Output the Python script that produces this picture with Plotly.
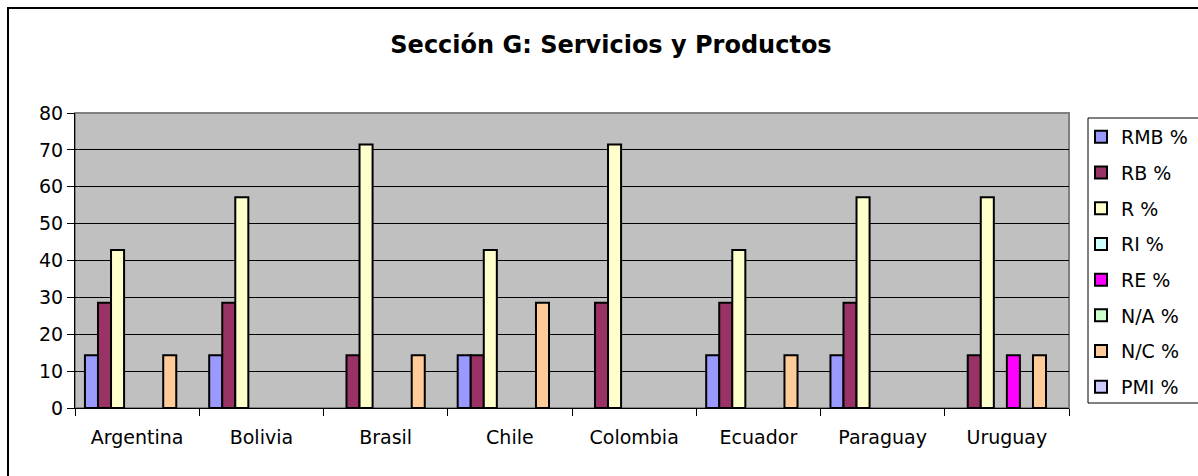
import plotly.graph_objects as go

# Countries on the category axis
countries = ["Argentina", "Bolivia", "Brasil", "Chile", "Colombia", "Ecuador", "Paraguay", "Uruguay"]

# Percentage per response type, one list per series
rmb = [14.29, 14.29, 0, 14.29, 0, 14.29, 14.29, 0]
rb = [28.57, 28.57, 14.29, 14.29, 28.57, 28.57, 28.57, 14.29]
r = [42.86, 57.14, 71.43, 42.86, 71.43, 42.86, 57.14, 57.14]
ri = [0, 0, 0, 0, 0, 0, 0, 0]
re_ = [0, 0, 0, 0, 0, 0, 0, 14.29]
na = [0, 0, 0, 0, 0, 0, 0, 0]
nc = [14.29, 0, 14.29, 28.57, 0, 14.29, 0, 14.29]
pmi = [0, 0, 0, 0, 0, 0, 0, 0]

series_names = ["RMB %", "RB %", "R %", "RI %", "RE %", "N/A %", "N/C %", "PMI %"]
series_values = [rmb, rb, r, ri, re_, na, nc, pmi]
series_colors = ["#9999FF", "#993366", "#FFFFCC", "#CCFFFF", "#FF00FF", "#CCFFCC", "#FFCC99", "#CCCCFF"]

y_ticks = [0, 10, 20, 30, 40, 50, 60, 70, 80]

FONT = "DejaVu Sans"
W, H = 1198, 476
L, R, T, B = 75, 129, 113, 68

fig = go.Figure()
for name, vals, col in zip(series_names, series_values, series_colors):
    fig.add_trace(go.Bar(
        x=countries,
        y=[v if v else None for v in vals],
        name=name,
        legendgroup=name,
        marker=dict(color=col, line=dict(color="#000000", width=2)),
    ))

pw = W - L - R
ph = H - T - B

def px_x(p):
    return (p - L) / pw

def px_y(p):
    return (H - B - p) / ph

fig.update_layout(
    width=W, height=H,
    margin=dict(l=L, r=R, t=T, b=B),
    paper_bgcolor="#FFFFFF",
    plot_bgcolor="#C0C0C0",
    barmode="group",
    bargap=0.16,
    bargroupgap=0,
    font=dict(family=FONT, size=19, color="#000000"),
    title=dict(
        text="<b>Sección G: Servicios y Productos</b>",
        x=611 / W, xanchor="center", xref="container",
        y=1 - 45 / H, yanchor="middle", yref="container",
        font=dict(family=FONT, size=24, color="#000000"),
    ),
    showlegend=True,
    legend=dict(
        xref="container", x=1081 / W, xanchor="left",
        yref="container", y=1 - 118 / H, yanchor="top",
        borderwidth=0,
        bgcolor="rgba(0,0,0,0)",
        font=dict(family=FONT, size=19),
        tracegroupgap=8,
        traceorder="grouped",
        itemwidth=30,
        maxheight=420,
    ),
    xaxis=dict(
        type="category",
        showgrid=False,
        showline=True, linecolor="#000000", linewidth=1,
        ticks="outside", ticklen=7, tickcolor="#000000",
        tickson="boundaries",
        ticklabelstandoff=12,
        range=[-0.5, len(countries) - 0.5],
    ),
    yaxis=dict(
        range=[0, 80],
        tickvals=y_ticks,
        showgrid=True, gridcolor="#000000", gridwidth=1,
        showline=True, linecolor="#000000", linewidth=1,
        ticks="outside", ticklen=7, tickcolor="#000000",
        zeroline=False,
    ),
    shapes=[
        # plot area frame (top and right edges)
        dict(type="rect", xref="paper", yref="paper", x0=0, x1=1, y0=0, y1=1,
             line=dict(color="#808080", width=2), layer="below"),
        # legend frame
        dict(type="rect", xref="paper", yref="paper",
             x0=px_x(1088), x1=px_x(1206), y0=px_y(403), y1=px_y(118),
             line=dict(color="#000000", width=1), fillcolor="#FFFFFF", layer="below"),
        # chart area border
        dict(type="rect", xref="paper", yref="paper",
             x0=px_x(8), x1=px_x(1201), y0=px_y(479), y1=px_y(8),
             line=dict(color="#000000", width=2)),
    ],
)

fig.write_html("out.html")
